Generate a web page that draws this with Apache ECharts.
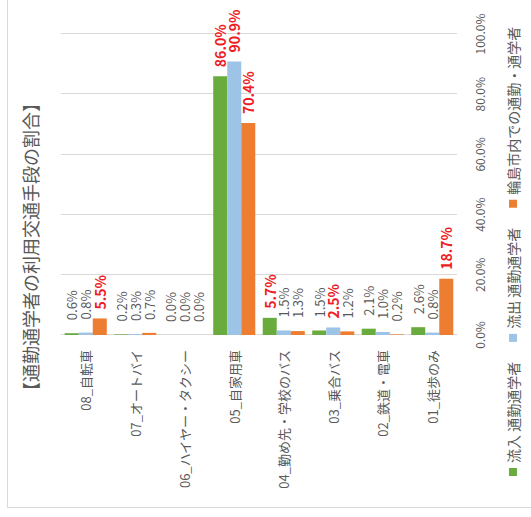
<!DOCTYPE html>
<html lang="ja">

<head>
    <meta charset="utf-8" />
    <title>通勤通学者の利用交通手段の割合</title>
    <script src="https://cdn.jsdelivr.net/npm/echarts@6.0.0/dist/echarts.min.js"></script>
    <style>
        html,
        body {
            margin: 0;
            padding: 0;
            background: #fff;
            overflow: hidden;
        }

        /* 横棒グラフを描いてから、枠ごと左に90度回す */
        #main {
            position: absolute;
            left: 7px;
            top: -7px;
            width: 517px;
            height: 531px;
            transform: rotate(-90deg);
        }
    </style>
</head>

<body>
    <div id="main"></div>

    <script>
        // 交通手段（上から順）
        var categories = ['08_自転車', '07_オートバイ', '06_ハイヤー・タクシー', '05_自家用車',
            '04_勤め先・学校のバス', '03_乗合バス', '02_鉄道・電車', '01_徒歩のみ'];

        var seriesNames = ['流入 通勤通学者', '流出 通勤通学者', '輪島市内での通勤・通学者'];

        // 割合（%）
        var inflow = [0.6, 0.2, 0.0, 86.0, 5.7, 1.5, 2.1, 2.6];
        var outflow = [0.8, 0.3, 0.0, 90.9, 1.5, 2.5, 1.0, 0.8];
        var local = [5.5, 0.7, 0.0, 70.4, 1.3, 1.2, 0.2, 18.7];

        // 赤字で強調されているラベル
        var inflowRed = [false, false, false, true, true, false, false, false];
        var outflowRed = [false, false, false, true, false, true, false, false];
        var localRed = [true, false, false, true, false, false, false, true];

        var xTicks = [0, 20, 40, 60, 80, 100];

        var colors = ['#6aab3d', '#9dc3e6', '#ed7d31'];
        var font = 'Noto Sans CJK JP';
        var gray = '#595959';

        function makeData(values, red) {
            var arr = [];
            for (var i = 0; i < values.length; i++) {
                var item = { value: values[i] };
                if (red[i]) {
                    item.label = { color: '#ee1c25', fontWeight: 'bold', fontSize: 14, distance: 9 };
                }
                arr.push(item);
            }
            return arr;
        }

        function makeSeries(name, values, red, color) {
            return {
                name: name,
                type: 'bar',
                data: makeData(values, red),
                itemStyle: { color: color },
                barGap: '0%',
                barCategoryGap: '15%',
                label: {
                    show: true,
                    position: 'right',
                    distance: 13,
                    fontFamily: font,
                    fontSize: 13,
                    color: gray,
                    formatter: function (p) {
                        return p.value.toFixed(1) + '%';
                    }
                }
            };
        }

        var myChart = echarts.init(document.getElementById('main'), null, { renderer: 'svg' });

        var option = {
            animation: false,
            title: {
                text: '【通勤通学者の利用交通手段の割合】',
                left: 117,
                top: 21,
                padding: 0,
                textStyle: { fontFamily: font, fontSize: 18, fontWeight: 'normal', color: gray }
            },
            legend: {
                data: seriesNames,
                left: 41,
                top: 506,
                padding: 0,
                icon: 'rect',
                itemWidth: 8,
                itemHeight: 8,
                itemGap: 20,
                textStyle: { fontFamily: font, fontSize: 14, color: gray }
            },
            grid: {
                left: 182,
                right: 34,
                top: 61,
                bottom: 74,
                containLabel: false
            },
            xAxis: {
                type: 'value',
                min: xTicks[0],
                max: xTicks[xTicks.length - 1],
                interval: xTicks[1] - xTicks[0],
                axisLine: { show: false },
                axisTick: { show: false },
                splitLine: { lineStyle: { color: '#d9d9d9' } },
                axisLabel: {
                    margin: 16,
                    fontFamily: font,
                    fontSize: 12,
                    color: gray,
                    formatter: function (v) {
                        return v.toFixed(1) + '%';
                    }
                }
            },
            yAxis: {
                type: 'category',
                data: categories,
                inverse: true,
                axisLine: { lineStyle: { color: '#d9d9d9' } },
                axisTick: { show: false },
                axisLabel: { margin: 15, fontFamily: font, fontSize: 13, color: gray }
            },
            series: [
                makeSeries(seriesNames[0], inflow, inflowRed, colors[0]),
                makeSeries(seriesNames[1], outflow, outflowRed, colors[1]),
                makeSeries(seriesNames[2], local, localRed, colors[2])
            ],
            graphic: [{
                // グラフ外枠
                type: 'rect',
                silent: true,
                shape: { x: 9.5, y: 7.5, width: 700, height: 700 },
                style: { fill: 'none', stroke: '#d9d9d9', lineWidth: 1 }
            }]
        };

        myChart.setOption(option);
    </script>
</body>

</html>
